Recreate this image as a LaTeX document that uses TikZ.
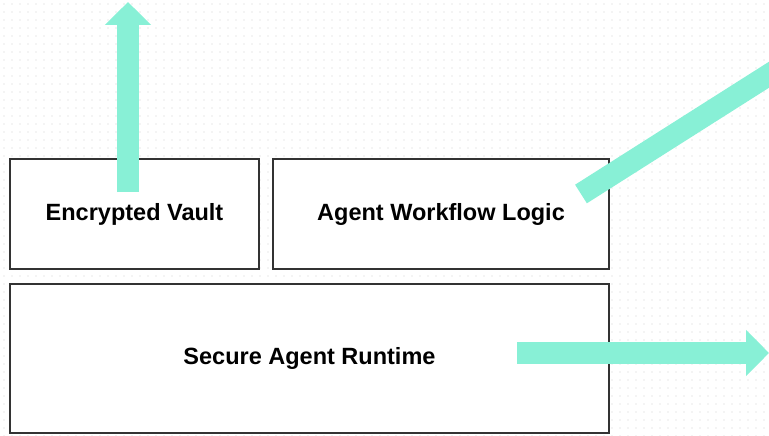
\documentclass[tikz,border=0pt]{standalone}
\usepackage{fontspec}
\setmainfont{Liberation Sans}
\usetikzlibrary{arrows.meta}
\definecolor{mint}{HTML}{88F0D6}

\begin{document}
\begin{tikzpicture}[x=1pt,y=-1pt]
\tikzstyle{every node}+=[inner sep=0pt]
\tikzstyle{block}=[draw=black!80, line width=2pt, fill=white, font=\bfseries\fontsize{23.5}{28}\selectfont]
\tikzstyle{flow}=[draw=mint, line width=22pt, -{Triangle[width=45pt,length=23pt]}]
\useasboundingbox (0,0) rectangle (769,436);
\clip (0,0) rectangle (769,436);
\foreach \x in {4,12,...,769}
  \foreach \y in {4,12,...,436}
    \fill [black!18] (\x,\y) circle (0.6);
\node [block, minimum width=249pt, minimum height=110pt] (vault) at (134.5,214) {Encrypted Vault};
\node [block, minimum width=336pt, minimum height=110pt] (logic) at (441,214) {Agent Workflow Logic};
\node [block, minimum width=599pt, minimum height=149pt] (runtime) at (309.5,358.5) {Secure Agent Runtime};
\coordinate (vaultout) at (128,192);
\coordinate (vaultup) at (128,2);
\coordinate (logicout) at (581,194);
\coordinate (logicup) at (860,17);
\coordinate (runout) at (517,353);
\coordinate (runright) at (769,353);
\draw [flow] (vaultout) -- (vaultup);
\draw [flow] (logicout) -- (logicup);
\draw [flow] (runout) -- (runright);
\end{tikzpicture}
\end{document}
